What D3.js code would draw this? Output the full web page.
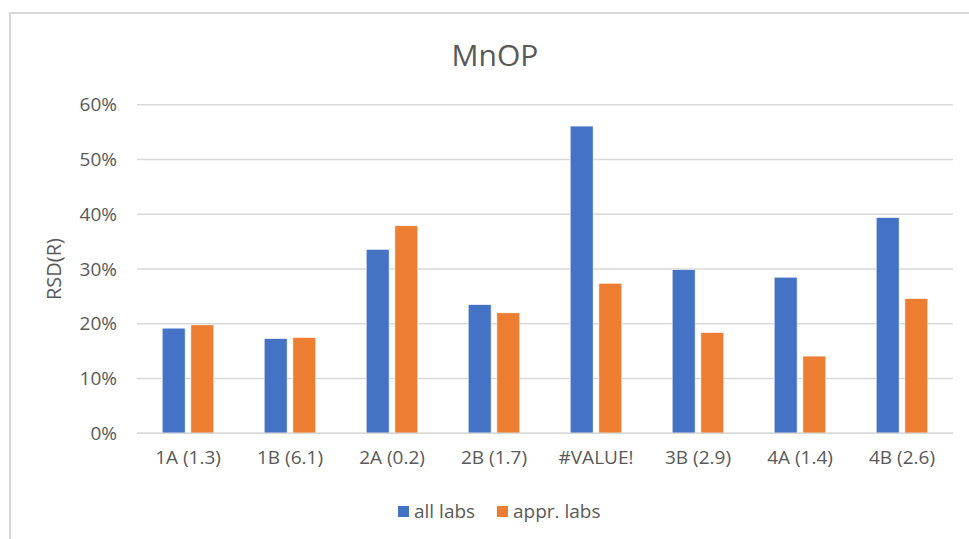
<!DOCTYPE html>
<html>
<head>
<meta charset="utf-8">
<script src="https://cdn.jsdelivr.net/npm/d3@7"></script>
<style>
  html, body { margin: 0; padding: 0; background: #fff; }
  svg { display: block; font-family: "Open Sans", "Noto Sans", sans-serif; }
</style>
</head>
<body>
<svg id="chart" width="969" height="539"></svg>
<script>
const categories = ["1A (1.3)", "1B (6.1)", "2A (0.2)", "2B (1.7)", "#VALUE!", "3B (2.9)", "4A (1.4)", "4B (2.6)"];
const seriesNames = ["all labs", "appr. labs"];
const allLabs  = [0.192, 0.173, 0.336, 0.235, 0.561, 0.299, 0.285, 0.394];
const apprLabs = [0.198, 0.175, 0.379, 0.220, 0.274, 0.184, 0.141, 0.246];
const yTicks = [0, 0.1, 0.2, 0.3, 0.4, 0.5, 0.6];
const colors = ["#4472C4", "#ED7D31"];

const data = categories.map((c, i) => ({ cat: c, values: [allLabs[i], apprLabs[i]] }));

const svg = d3.select("#chart");
const textColor = "#595959";
const gridColor = "#d9d9d9";

// chart border (left and top visible)
svg.append("rect")
  .attr("x", 10).attr("y", 13)
  .attr("width", 1000).attr("height", 600)
  .attr("fill", "none").attr("stroke", gridColor).attr("stroke-width", 2);

const plotL = 137, plotR = 953, plotT = 104.7, plotB = 433.3;

const x0 = d3.scaleBand().domain(categories).range([plotL, plotR])
  .paddingInner(0.494).paddingOuter(0.247);
const x1 = d3.scaleBand().domain([0, 1]).range([0, x0.bandwidth()]).paddingInner(0.2);
const y = d3.scaleLinear().domain([0, 0.6]).range([plotB, plotT]);

// gridlines
svg.append("g").selectAll("line").data(yTicks).join("line")
  .attr("x1", plotL).attr("x2", plotR)
  .attr("y1", d => y(d)).attr("y2", d => y(d))
  .attr("stroke", gridColor).attr("stroke-width", 1.5);

// y axis labels
const yAxis = d3.axisLeft(y).tickValues(yTicks).tickFormat(d3.format(".0%")).tickSize(0).tickPadding(0);
const yg = svg.append("g").attr("transform", `translate(${plotL - 20},0)`).call(yAxis);
yg.select(".domain").remove();
yg.selectAll("text").attr("fill", textColor).attr("font-size", 19)
  .attr("font-family", "'Open Sans', sans-serif");

// bars
const groups = svg.append("g").selectAll("g").data(data).join("g")
  .attr("transform", d => `translate(${x0(d.cat)},0)`);
groups.selectAll("rect").data(d => d.values.map((v, k) => ({ v, k }))).join("rect")
  .attr("x", d => x1(d.k))
  .attr("width", x1.bandwidth())
  .attr("y", d => y(d.v))
  .attr("height", d => y(0) - y(d.v))
  .attr("fill", d => colors[d.k])
  .attr("stroke", "#ffffff").attr("stroke-width", 0.6);

// x axis labels
const xAxis = d3.axisBottom(x0).tickSize(0).tickPadding(0);
const xg = svg.append("g").attr("transform", `translate(0,${plotB + 17})`).call(xAxis);
xg.select(".domain").remove();
xg.selectAll("text").attr("fill", textColor).attr("font-size", 19)
  .attr("font-family", "'Open Sans', sans-serif");

// baseline
svg.append("line").attr("x1", plotL).attr("x2", plotR)
  .attr("y1", y(0)).attr("y2", y(0))
  .attr("stroke", gridColor).attr("stroke-width", 1.5);

// title
svg.append("text").attr("x", 495).attr("y", 66)
  .attr("text-anchor", "middle").attr("fill", textColor)
  .attr("font-size", 30).text("MnOP");

// y axis title
svg.append("text")
  .attr("transform", `translate(61,${(plotT + plotB) / 2}) rotate(-90)`)
  .attr("text-anchor", "middle").attr("fill", textColor)
  .attr("font-size", 20).text("RSD(R)");

// legend
const legendItems = [{ name: seriesNames[0], x: 398 }, { name: seriesNames[1], x: 497 }];
const lg = svg.append("g").selectAll("g").data(legendItems).join("g")
  .attr("transform", d => `translate(${d.x},506)`);
lg.append("rect").attr("width", 11).attr("height", 11)
  .attr("fill", (d, i) => colors[i]);
lg.append("text").attr("x", 16).attr("y", 12)
  .attr("fill", textColor).attr("font-size", 19).text(d => d.name);
</script>
</body>
</html>
